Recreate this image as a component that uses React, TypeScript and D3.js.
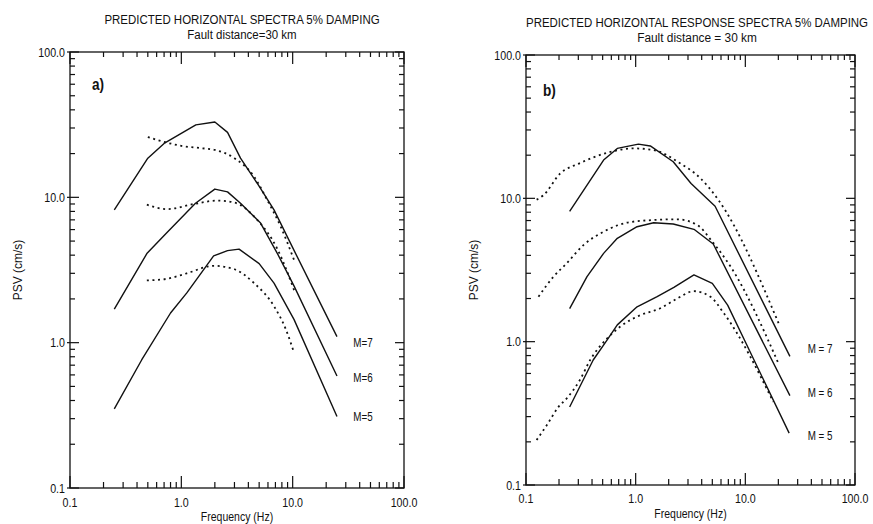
import React from 'react';
import * as d3 from 'd3';

// ---------- tick values / labels ----------
const freqTicks = [0.1, 1, 10, 100];
const freqTickLabels = ['0.1', '1.0', '10.0', '100.0'];
const psvTicks = [0.1, 1, 10, 100];
const psvTickLabels = ['0.1', '1.0', '10.0', '100.0'];

// ---------- panel a) ----------
const aM7SolidFreq = [0.25, 0.5, 0.7, 1.35, 2.0, 2.6, 3.4, 4.8, 6.8, 9.6, 25];
const aM7SolidPsv = [8.2, 18.6, 23.5, 31.5, 33, 28, 18.6, 12.5, 8.2, 4.8, 1.1];
const aM7DotFreq = [0.5, 0.74, 1.0, 1.5, 2.0, 3.0, 4.5, 5.9, 7.8, 10.3];
const aM7DotPsv = [26, 23.8, 22.6, 21.8, 21.2, 18.6, 13.9, 9.6, 6.3, 3.7];

const aM6SolidFreq = [0.25, 0.49, 0.74, 0.91, 1.34, 2.0, 2.6, 3.4, 5.15, 7.3, 10.3, 25];
const aM6SolidPsv = [1.7, 4.1, 5.7, 6.7, 9.1, 11.4, 10.9, 9.1, 6.65, 4.1, 2.45, 0.59];
const aM6DotFreq = [0.49, 0.74, 1.3, 2.1, 3.0, 4.8, 7.3, 10.3];
const aM6DotPsv = [8.9, 8.3, 9.0, 9.5, 9.2, 7.0, 4.4, 2.3];

const aM5SolidFreq = [0.25, 0.44, 0.8, 1.12, 1.95, 2.6, 3.3, 5.0, 6.8, 10.3, 25];
const aM5SolidPsv = [0.35, 0.76, 1.6, 2.2, 3.95, 4.3, 4.4, 3.5, 2.57, 1.44, 0.31];
const aM5DotFreq = [0.49, 0.74, 1.12, 1.95, 3.0, 4.5, 6.8, 8.7, 10.3];
const aM5DotPsv = [2.68, 2.75, 3.0, 3.38, 3.2, 2.57, 1.78, 1.23, 0.85];

const aLabels = ['M=7', 'M=6', 'M=5'];
const aLabelPsv = [1.0, 0.58, 0.31];
const aLabelFreq = 35;

// ---------- panel b) ----------
const bM7SolidFreq = [0.25, 0.51, 0.68, 1.06, 1.36, 2.2, 3.2, 5.3, 25.5];
const bM7SolidPsv = [8.1, 18.5, 22.3, 23.9, 23.2, 18, 12.7, 8.8, 0.79];
const bM7DotFreq = [0.125, 0.144, 0.205, 0.31, 0.55, 0.96, 1.46, 2.56, 3.9, 5.7, 20.3];
const bM7DotPsv = [9.8, 10.5, 14.9, 17.6, 20.8, 22.3, 21.7, 17.5, 13.8, 9.7, 1.32];

const bM6SolidFreq = [0.25, 0.36, 0.51, 0.68, 1.03, 1.46, 2.2, 3.4, 5.1, 25.5];
const bM6SolidPsv = [1.7, 2.84, 4.13, 5.26, 6.34, 6.76, 6.62, 6.08, 4.8, 0.42];
const bM6DotFreq = [0.13, 0.178, 0.235, 0.334, 0.51, 0.83, 1.46, 2.39, 3.65, 5.0, 7.35, 20.3];
const bM6DotPsv = [2.06, 2.84, 3.52, 4.72, 5.85, 6.76, 7.06, 7.14, 6.51, 4.98, 3.33, 0.69];

const bM5SolidFreq = [0.25, 0.41, 0.55, 0.68, 1.03, 1.57, 2.23, 3.4, 5.0, 6.9, 25.1];
const bM5SolidPsv = [0.35, 0.745, 1.03, 1.31, 1.75, 2.06, 2.39, 2.92, 2.55, 1.8, 0.23];
const bM5DotFreq = [0.125, 0.155, 0.198, 0.235, 0.31, 0.385, 0.55, 0.72, 1.1, 1.68, 2.39, 3.4, 4.8, 6.4, 18];
const bM5DotPsv = [0.206, 0.262, 0.351, 0.402, 0.54, 0.745, 1.055, 1.27, 1.53, 1.71, 2.0, 2.25, 2.06, 1.57, 0.38];

const bLabels = ['M = 7', 'M = 6', 'M = 5'];
const bLabelPsv = [0.9, 0.44, 0.22];
const bLabelFreq = 37;

// ---------- helpers ----------
const FONT = "'Liberation Sans', Arial, Helvetica, sans-serif";
const NARROW = 0.82;

type Series = { freq: number[]; psv: number[]; dotted: boolean };
type Box = { l: number; r: number; t: number; b: number };

function NText(props: {
  x: number; y: number; size: number; anchor?: string; weight?: string | number;
  children: React.ReactNode; sx?: number;
}) {
  const { x, y, size, anchor = 'start', weight = 'normal', children, sx = NARROW } = props;
  return (
    <text
      transform={`translate(${x},${y}) scale(${sx},1)`}
      fontSize={size}
      fontFamily={FONT}
      fontWeight={weight}
      textAnchor={anchor as any}
      fill="#111"
    >
      {children}
    </text>
  );
}

const isMajor = (v: number) => Math.abs(Math.log10(v) - Math.round(Math.log10(v))) < 1e-9;

function Panel(props: {
  box: Box;
  title: string; titleY: number;
  subtitle: string; subY: number; subSx: number;
  titleCx: number;
  letter: string; letterX: number; letterY: number;
  series: Series[];
  labels: string[]; labelPsv: number[]; labelFreq: number;
  tickLabelDy: number;
}) {
  const { box } = props;
  const x = d3.scaleLog().domain([0.1, 100]).range([box.l, box.r]);
  const y = d3.scaleLog().domain([0.1, 100]).range([box.b, box.t]);
  const xt = x.ticks();
  const yt = y.ticks();
  const cx = (box.l + box.r) / 2;
  const cy = (box.t + box.b) / 2;

  const minorIn = 6;
  const majorIn = 12;
  const sideMinor = 5;
  const sideMajor = 9;

  return (
    <g>
      {/* titles */}
      <NText x={props.titleCx} y={props.titleY} size={13.5} anchor="middle" sx={0.85}>
        {props.title}
      </NText>
      <NText x={props.titleCx} y={props.subY} size={13.5} anchor="middle" sx={props.subSx}>
        {props.subtitle}
      </NText>

      {/* frame */}
      <rect x={box.l} y={box.t} width={box.r - box.l} height={box.b - box.t}
        fill="none" stroke="#111" strokeWidth={1.3} />

      {/* x ticks: bottom & top */}
      {xt.map((v, i) => {
        const px = x(v);
        const len = isMajor(v) ? majorIn : minorIn;
        const topLen = isMajor(v) ? majorIn : 5;
        return (
          <g key={'xt' + i}>
            <line x1={px} x2={px} y1={box.b} y2={box.b - len} stroke="#111" strokeWidth={1.2} />
            <line x1={px} x2={px} y1={box.t} y2={box.t + topLen} stroke="#111" strokeWidth={1.2} />
          </g>
        );
      })}
      {/* y ticks: left & right */}
      {yt.map((v, i) => {
        const py = y(v);
        const len = isMajor(v) ? sideMajor : sideMinor;
        return (
          <g key={'yt' + i}>
            <line x1={box.l - (isMajor(v) ? 3 : 0)} x2={box.l + len} y1={py} y2={py} stroke="#111" strokeWidth={1.2} />
            <line x1={box.r} x2={box.r - len} y1={py} y2={py} stroke="#111" strokeWidth={1.2} />
          </g>
        );
      })}

      {/* tick labels */}
      {freqTicks.map((v, i) => (
        <NText key={'xl' + i} x={x(v)} y={box.b + props.tickLabelDy} size={13} anchor="middle">
          {freqTickLabels[i]}
        </NText>
      ))}
      {psvTicks.map((v, i) => (
        <NText key={'yl' + i} x={box.l - 5} y={y(v) + 4.5} size={13} anchor="end">
          {psvTickLabels[i]}
        </NText>
      ))}

      {/* axis titles */}
      <NText x={cx} y={box.b + 33} size={12.5} anchor="middle" sx={0.84}>Frequency (Hz)</NText>
      <text transform={`translate(${box.l - 48},${cy}) rotate(-90)`} fontSize={12}
        fontFamily={FONT} textAnchor="middle" fill="#111">PSV (cm/s)</text>

      {/* panel letter */}
      <NText x={props.letterX} y={props.letterY} size={16} weight="bold" sx={0.85}>{props.letter}</NText>

      {/* curves */}
      {props.series.map((s, i) => {
        const pts: [number, number][] = s.freq.map((f, k) => [f, s.psv[k]]);
        const gen = d3.line<[number, number]>()
          .x(d => x(d[0]))
          .y(d => y(d[1]))
          .curve(s.dotted ? d3.curveMonotoneX : d3.curveLinear);
        return (
          <path key={'s' + i} d={gen(pts) || ''} fill="none" stroke="#111"
            strokeWidth={s.dotted ? 1.8 : 1.4}
            strokeDasharray={s.dotted ? '2 3.6' : undefined}
            strokeLinejoin="round" />
        );
      })}

      {/* magnitude labels */}
      {props.labels.map((t, i) => (
        <NText key={'ml' + i} x={x(props.labelFreq)} y={y(props.labelPsv[i]) + 4.5} size={12}>
          {t}
        </NText>
      ))}
    </g>
  );
}

export default function App() {
  const boxA: Box = { l: 70, r: 404, t: 52, b: 488 };
  const boxB: Box = { l: 526, r: 855, t: 55, b: 485 };

  const seriesA: Series[] = [
    { freq: aM7SolidFreq, psv: aM7SolidPsv, dotted: false },
    { freq: aM7DotFreq, psv: aM7DotPsv, dotted: true },
    { freq: aM6SolidFreq, psv: aM6SolidPsv, dotted: false },
    { freq: aM6DotFreq, psv: aM6DotPsv, dotted: true },
    { freq: aM5SolidFreq, psv: aM5SolidPsv, dotted: false },
    { freq: aM5DotFreq, psv: aM5DotPsv, dotted: true },
  ];
  const seriesB: Series[] = [
    { freq: bM7SolidFreq, psv: bM7SolidPsv, dotted: false },
    { freq: bM7DotFreq, psv: bM7DotPsv, dotted: true },
    { freq: bM6SolidFreq, psv: bM6SolidPsv, dotted: false },
    { freq: bM6DotFreq, psv: bM6DotPsv, dotted: true },
    { freq: bM5SolidFreq, psv: bM5SolidPsv, dotted: false },
    { freq: bM5DotFreq, psv: bM5DotPsv, dotted: true },
  ];

  return (
    <svg width={873} height={524} viewBox="0 0 873 524"
      style={{ position: 'absolute', left: 0, top: 0, background: '#fff' }}>
      <rect x={0} y={0} width={873} height={524} fill="#fff" />
      <Panel
        box={boxA}
        title="PREDICTED HORIZONTAL SPECTRA  5% DAMPING" titleY={24}
        subtitle="Fault distance=30 km" subY={38.5} subSx={0.85}
        titleCx={242}
        letter="a)" letterX={92} letterY={90}
        series={seriesA}
        labels={aLabels} labelPsv={aLabelPsv} labelFreq={aLabelFreq}
        tickLabelDy={19}
      />
      <Panel
        box={boxB}
        title="PREDICTED HORIZONTAL RESPONSE SPECTRA   5% DAMPING" titleY={26.5}
        subtitle="Fault distance = 30 km" subY={41.5} subSx={0.88}
        titleCx={697}
        letter="b)" letterX={543} letterY={96}
        series={seriesB}
        labels={bLabels} labelPsv={bLabelPsv} labelFreq={bLabelFreq}
        tickLabelDy={18}
      />
    </svg>
  );
}
